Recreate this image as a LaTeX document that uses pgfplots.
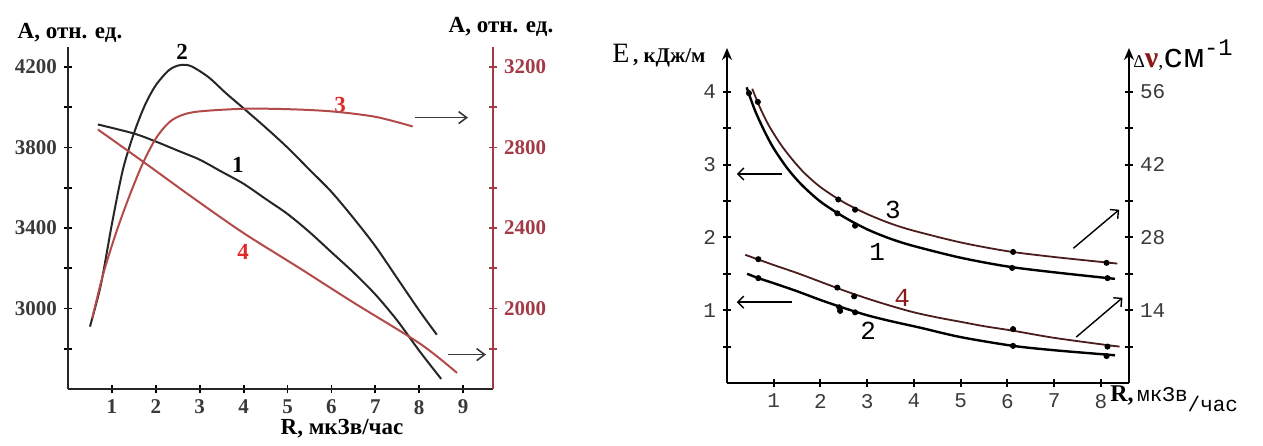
\documentclass[border=0pt]{standalone}
\usepackage{fontspec}
\setmainfont{Liberation Serif}
\newfontfamily\mono{Liberation Mono}
\usepackage{pgfplots}
\pgfplotsset{compat=1.18}
\usetikzlibrary{arrows.meta}

\definecolor{axred}{HTML}{A33A48}
\definecolor{curvered}{HTML}{B34A4A}
\definecolor{labred}{HTML}{E02828}
\definecolor{tickgray}{HTML}{3A3A3A}
\definecolor{darkred}{HTML}{4A1C1C}
\definecolor{nured}{HTML}{8A1A1A}

% common settings of the two panels
\pgfplotsset{
  base/.style={
    scale only axis, anchor=south west, clip=false,
    tick align=outside, major tick length=4pt, minor tick length=4pt,
    /pgf/number format/assume math mode=true,
    /pgf/number format/1000 sep={},
  },
  lpanel/.style={base, width=212.5pt, height=171pt, at={(34pt,25pt)},
    xmin=0, xmax=9.68,
    tick label style={font=\bfseries\fontsize{10.5}{12}\selectfont},
    every tick/.style={line width=0.9pt}},
  rpanel/.style={base, width=201pt, height=167.5pt, at={(363.5pt,28pt)},
    xmin=0, xmax=8.6,
    tick label style={font=\mono\fontsize{10.5}{12}\selectfont, text=tickgray},
    every tick/.style={line width=1pt, black}},
}

\begin{document}
\begin{tikzpicture}
\path (0,0) rectangle (631.5pt,219.5pt);

% ---------- left panel, left axis: curves 1 and 2
\begin{axis}[lpanel, axis x line=bottom, axis y line=left,
    axis line style={-, line width=1pt, black!85},
    ymin=2600, ymax=4300,
    ytick={3000,3400,3800,4200}, minor ytick={2800,3200,3600,4000},
    xtick={1,...,9}, tick label style={text=tickgray}]
\addplot[smooth, line width=1pt, black!85] coordinates {
  (0.68,3915) (1.5,3870) (2.0,3830) (2.5,3785) (3.0,3740) (3.5,3680)
  (4.0,3620) (4.5,3545) (5.0,3470) (5.5,3380) (6.0,3280) (6.5,3180)
  (7.0,3070) (7.5,2940) (8.0,2790) (8.5,2650)};
\addplot[smooth, line width=1pt, black!85] coordinates {
  (0.5,2910) (0.75,3120) (1.0,3420) (1.25,3690) (1.5,3870) (1.75,4010)
  (2.0,4110) (2.3,4185) (2.55,4210) (2.8,4205) (3.2,4150) (3.6,4070)
  (4.0,3995) (4.5,3900) (5.0,3800) (5.5,3690) (6.0,3580) (6.5,3450)
  (7.0,3310) (7.5,3150) (8.0,2990) (8.4,2870)};
\node[font=\bfseries\fontsize{11.5}{12}\selectfont] at (axis cs:2.6,4275) {2};
\node[font=\bfseries\fontsize{11.5}{12}\selectfont] at (axis cs:3.87,3716) {1};
\node[font=\bfseries\fontsize{11.5}{12}\selectfont, text=labred] at (axis cs:6.2,4014) {3};
\node[font=\bfseries\fontsize{11.5}{12}\selectfont, text=labred] at (axis cs:3.99,3283) {4};
\draw[-{Straight Barb[length=4pt,width=6pt]}, tickgray, line width=0.8pt]
  (axis cs:7.9,3949) -- (axis cs:9.11,3949);
\draw[-{Straight Barb[length=4pt,width=6pt]}, tickgray, line width=0.8pt]
  (axis cs:8.66,2771) -- (axis cs:9.52,2771);
\end{axis}

% ---------- left panel, right axis: curves 3 and 4
\begin{axis}[lpanel, axis x line=none, axis y line=right,
    axis line style={-, line width=1pt, axred},
    ymin=1600, ymax=3300,
    ytick={2000,2400,2800,3200}, minor ytick={1800,2200,2600,3000},
    y tick label style={text=axred}, every tick/.append style={axred}]
\addplot[smooth, line width=1pt, curvered] coordinates {
  (0.55,1950) (0.8,2170) (1.1,2380) (1.4,2560) (1.7,2720) (2.0,2845)
  (2.3,2925) (2.6,2962) (3.0,2980) (4.0,2993) (5.0,2991) (6.0,2980)
  (7.0,2953) (7.85,2905)};
\addplot[smooth, line width=1pt, curvered] coordinates {
  (0.68,2890) (1.71,2730) (2.85,2550) (4.0,2375) (5.28,2200) (6.5,2030)
  (8.02,1825) (8.86,1680)};
\end{axis}

% ---------- right panel, left axis: E
\begin{axis}[rpanel, axis x line=bottom, axis y line=left,
    x axis line style={-, line width=1.2pt},
    y axis line style={-{Stealth[length=6pt,width=5pt]}, line width=1.2pt},
    ymin=0, ymax=4.6,
    ytick={1,2,3,4}, minor ytick={0.5,1.5,2.5,3.5}, xtick={1,...,8}]
% curve 1
\addplot[smooth, line width=1.2pt, black] coordinates {
  (0.42,4.06) (0.6,3.74) (0.8,3.46) (1.0,3.22) (1.3,2.94) (1.6,2.72)
  (2.0,2.49) (2.5,2.28) (3.0,2.11) (3.5,1.98) (4.0,1.88) (5.0,1.72)
  (6.0,1.60) (7.0,1.52) (8.3,1.43)};
\addplot[only marks, mark=*, mark size=1.3pt, black] coordinates {
  (0.47,3.98) (2.36,2.33) (2.74,2.16) (6.1,1.58) (8.14,1.44)};
% curve 3
\addplot[smooth, line width=0.9pt, darkred] coordinates {
  (0.54,4.04) (0.7,3.79) (0.9,3.53) (1.2,3.23) (1.6,2.92) (2.0,2.69)
  (2.5,2.48) (3.0,2.32) (3.5,2.19) (4.0,2.09) (5.0,1.93) (6.0,1.81)
  (7.0,1.73) (8.35,1.64)};
\addplot[only marks, mark=*, mark size=1.3pt, black] coordinates {
  (0.66,3.86) (2.38,2.52) (2.74,2.38) (6.12,1.80) (8.12,1.65)};
% curve 4
\addplot[smooth, line width=0.9pt, darkred] coordinates {
  (0.39,1.76) (1.0,1.62) (1.5,1.51) (2.0,1.39) (2.5,1.27) (3.0,1.16)
  (3.5,1.06) (4.0,0.97) (4.5,0.90) (5.0,0.84) (5.5,0.78) (6.1,0.72)
  (7.0,0.62) (8.14,0.52) (8.4,0.50)};
\addplot[only marks, mark=*, mark size=1.3pt, black] coordinates {
  (0.67,1.70) (2.36,1.31) (2.72,1.19) (6.12,0.74) (8.14,0.50)};
% curve 2
\addplot[smooth, line width=1.2pt, black] coordinates {
  (0.43,1.50) (0.67,1.44) (1.0,1.37) (1.5,1.26) (2.0,1.14) (2.5,1.03)
  (3.0,0.93) (3.5,0.85) (4.13,0.76) (5.0,0.63) (6.12,0.51) (7.0,0.45)
  (8.12,0.39) (8.3,0.38)};
\addplot[only marks, mark=*, mark size=1.3pt, black] coordinates {
  (0.67,1.44) (2.4,1.04) (2.42,0.99) (2.74,0.97) (6.12,0.51) (8.12,0.37)};
\node[font=\mono\fontsize{13}{13}\selectfont] at (axis cs:3.55,2.38) {3};
\node[font=\mono\fontsize{13}{13}\selectfont] at (axis cs:3.21,1.80) {1};
\node[font=\mono\fontsize{13}{13}\selectfont, text=nured] at (axis cs:3.75,1.17) {4};
\node[font=\mono\fontsize{13}{13}\selectfont] at (axis cs:3.02,0.72) {2};
\draw[-{Straight Barb[length=3pt,width=6pt]}, line width=0.7pt]
  (axis cs:1.18,2.87) -- (axis cs:0.21,2.87);
\draw[-{Straight Barb[length=3pt,width=6pt]}, line width=0.7pt]
  (axis cs:1.39,1.11) -- (axis cs:0.21,1.11);
\draw[-{Straight Barb[length=3pt,width=6pt]}, line width=0.7pt]
  (axis cs:7.41,1.85) -- (axis cs:8.39,2.38);
\draw[-{Straight Barb[length=3pt,width=6pt]}, line width=0.7pt]
  (axis cs:7.47,0.63) -- (axis cs:8.46,1.17);
\end{axis}

% ---------- right panel, right axis: delta nu
\begin{axis}[rpanel, axis x line=none, axis y line=right,
    y axis line style={-{Stealth[length=6pt,width=5pt]}, line width=1.2pt},
    ymin=0, ymax=64.4,
    ytick={14,28,42,56}, minor ytick={7,21,35,49}]
\end{axis}

% axis titles
\node[font=\bfseries\fontsize{11.5}{12}\selectfont] at (35pt,203pt) {A, отн. ед.};
\node[font=\bfseries\fontsize{11.5}{12}\selectfont] at (250.5pt,206pt) {A, отн. ед.};
\node[font=\bfseries\fontsize{11.5}{12}\selectfont] at (171pt,5pt) {R, мкЗв/час};
\node[anchor=base west, inner sep=0] at (306pt,188pt)
  {{\fontsize{14}{14}\selectfont E}{\bfseries\fontsize{10.5}{12}\selectfont\,, кДж/м}};
\node[anchor=base west, inner sep=0] at (566.5pt,185.5pt)
  {{\fontsize{9}{9}\selectfont Δ}{\color{nured}\bfseries\fontsize{15}{15}\selectfont ν}{\fontsize{10}{10}\selectfont,}{\mono\fontsize{17}{17}\selectfont см\textsuperscript{-1}}};
\node[anchor=base west, inner sep=0] at (555pt,19pt)
  {{\bfseries\fontsize{12}{12}\selectfont R,}{\mono\fontsize{10.5}{12}\selectfont\,мкЗв\raisebox{-5pt}{/час}}};
\end{tikzpicture}
\end{document}
